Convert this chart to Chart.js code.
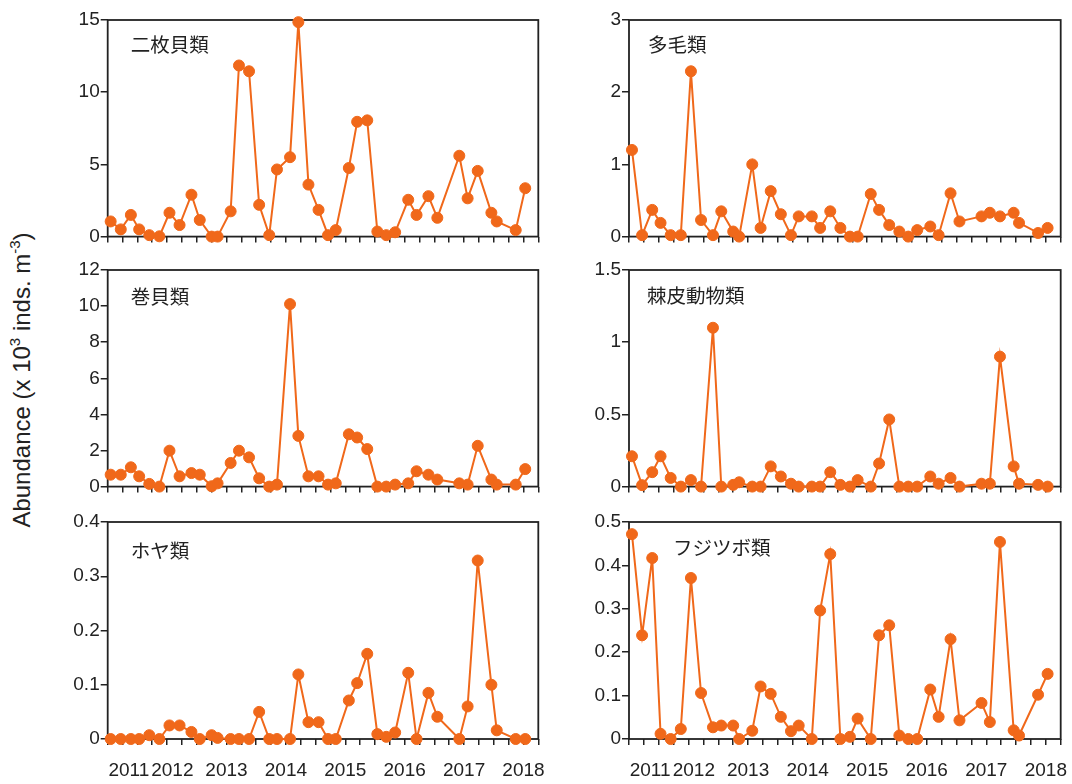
<!DOCTYPE html>
<html>
<head>
<meta charset="utf-8">
<script src="https://cdn.jsdelivr.net/npm/chart.js@4.4.1/dist/chart.umd.min.js"></script>
<style>
  html, body { margin: 0; padding: 0; background: #fff; }
  #wrap { position: relative; width: 1072px; height: 784px; overflow: hidden; }
  #wrap canvas { position: absolute; }
  #ytitle {
    position: absolute; left: 22px; top: 380px;
    transform: translate(-50%, -50%) rotate(-90deg);
    white-space: nowrap; color: #222;
    font: 24px "Liberation Sans", Arial, sans-serif;
  }
  #ytitle sup { font-size: 15px; line-height: 0; position: relative; top: -1px; }
</style>
</head>
<body>
<div id="wrap">
  <div id="ytitle">Abundance (x 10<sup>3</sup> inds. m<sup>-3</sup>)</div>
</div>
<script>
// Sampling dates (decimal years), shared by every taxon
const sampleDates = [2011.05, 2011.22, 2011.39, 2011.53, 2011.70, 2011.87, 2012.04, 2012.21, 2012.41, 2012.55,
  2012.75, 2012.85, 2013.07, 2013.21, 2013.38, 2013.55, 2013.72, 2013.85, 2014.07, 2014.21,
  2014.38, 2014.55, 2014.71, 2014.84, 2015.06, 2015.20, 2015.37, 2015.54, 2015.69, 2015.84,
  2016.06, 2016.20, 2016.40, 2016.55, 2016.92, 2017.06, 2017.23, 2017.46, 2017.55, 2017.87, 2018.03];

// Abundance (x 10^3 inds. m^-3) per taxon
const bivalve = [1.05, 0.5, 1.5, 0.5, 0.1, 0.02, 1.65, 0.8, 2.9, 1.15, 0, 0, 1.75, 11.85, 11.45, 2.2, 0.1, 4.65, 5.5, 14.85,
  3.6, 1.85, 0.1, 0.45, 4.75, 7.95, 8.05, 0.35, 0.1, 0.3, 2.55, 1.5, 2.8, 1.3, 5.6, 2.65, 4.55, 1.65, 1.05, 0.45, 3.35];
const polychaete = [1.2, 0.02, 0.37, 0.19, 0.02, 0.02, 2.29, 0.23, 0.02, 0.35, 0.07, 0, 1.0, 0.12, 0.63, 0.31, 0.02, 0.28, 0.28, 0.12,
  0.35, 0.12, 0, 0, 0.59, 0.37, 0.16, 0.07, 0, 0.09, 0.14, 0.02, 0.6, 0.21, 0.28, 0.33, 0.28, 0.33, 0.19, 0.05, 0.12];
const gastropod = [0.66, 0.66, 1.07, 0.57, 0.15, 0, 1.99, 0.57, 0.75, 0.66, 0.02, 0.18, 1.31, 1.99, 1.62, 0.46, 0, 0.11, 10.11, 2.81,
  0.57, 0.57, 0.11, 0.18, 2.9, 2.72, 2.08, 0, 0, 0.11, 0.18, 0.85, 0.66, 0.39, 0.18, 0.11, 2.26, 0.39, 0.11, 0.11, 0.97];
const echinoderm = [0.21, 0.01, 0.1, 0.21, 0.06, 0, 0.045, 0, 1.1, 0, 0.012, 0.03, 0, 0, 0.14, 0.07, 0.02, 0, 0, 0,
  0.1, 0.012, 0, 0.045, 0, 0.16, 0.465, 0, 0, 0, 0.07, 0.02, 0.06, 0, 0.02, 0.02, 0.9, 0.14, 0.02, 0.012, 0];
const ascidian = [0, 0, 0, 0, 0.007, 0, 0.025, 0.025, 0.013, 0, 0.007, 0.002, 0, 0, 0, 0.05, 0, 0, 0, 0.119,
  0.031, 0.031, 0, 0, 0.071, 0.103, 0.157, 0.009, 0.004, 0.012, 0.122, 0, 0.085, 0.041, 0, 0.06, 0.329, 0.1, 0.016, 0, 0];
const barnacle = [0.472, 0.239, 0.417, 0.012, 0, 0.023, 0.371, 0.106, 0.027, 0.031, 0.031, 0, 0.019, 0.121, 0.104, 0.051, 0.018, 0.031, 0, 0.296,
  0.426, 0, 0.005, 0.047, 0, 0.239, 0.262, 0.008, 0, 0, 0.114, 0.051, 0.23, 0.043, 0.083, 0.039, 0.454, 0.02, 0.008, 0.102, 0.15];

// Axis ticks
const yearLabels = ['2011', '2012', '2013', '2014', '2015', '2016', '2017', '2018'];
const bivalveTicks = [0, 5, 10, 15];
const polychaeteTicks = [0, 1, 2, 3];
const gastropodTicks = [0, 2, 4, 6, 8, 10, 12];
const echinodermTicks = [0, 0.5, 1, 1.5];
const ascidianTicks = [0, 0.1, 0.2, 0.3, 0.4];
const barnacleTicks = [0, 0.1, 0.2, 0.3, 0.4, 0.5];

const X_MIN = 2011, X_MAX = 2018.25;
const ORANGE = 'rgb(240,104,26)';
const INK = '#222';
const LATIN = '"Liberation Sans", Arial, Helvetica, sans-serif';
const CJK = '"Noto Sans CJK JP", "Noto Sans CJK SC", sans-serif';

// first two year labels sit shifted right so they clear the corner and each other
const labelShift = { '2011': 8, '2012': 2 };

const panels = [
  { name: '二枚貝類',   values: bivalve,    ticks: bivalveTicks,    col: 0, row: 0, dx: 23, dy: 25 },
  { name: '多毛類',     values: polychaete, ticks: polychaeteTicks, col: 1, row: 0, dx: 19, dy: 25 },
  { name: '巻貝類',     values: gastropod,  ticks: gastropodTicks,  col: 0, row: 1, dx: 23, dy: 27 },
  { name: '棘皮動物類', values: echinoderm, ticks: echinodermTicks, col: 1, row: 1, dx: 18, dy: 26 },
  { name: 'ホヤ類',     values: ascidian,   ticks: ascidianTicks,   col: 0, row: 2, dx: 23, dy: 29 },
  { name: 'フジツボ類', values: barnacle,   ticks: barnacleTicks,   col: 1, row: 2, dx: 44, dy: 26 }
];

const colLeft = [107.7, 629], colRight = [538.3, 1060.7];
const rowTop = [20, 270, 522], rowBottom = [237, 487, 739];

// frame around each plot area, drawn beneath the markers
const framePlugin = {
  id: 'frame',
  beforeDatasetsDraw(chart) {
    const { ctx, chartArea: a } = chart;
    ctx.save();
    ctx.strokeStyle = INK;
    ctx.lineWidth = 1.8;
    ctx.strokeRect(a.left, a.top, a.right - a.left, a.bottom - a.top);
    ctx.restore();
  }
};

// taxon name inside the upper-left of the plot
const namePlugin = {
  id: 'taxonName',
  afterDatasetsDraw(chart, args, opts) {
    const { ctx, chartArea: a } = chart;
    ctx.save();
    ctx.font = '19.5px ' + CJK;
    ctx.fillStyle = INK;
    ctx.textBaseline = 'middle';
    ctx.textAlign = 'left';
    ctx.fillText(opts.text, a.left + opts.dx, a.top + opts.dy);
    ctx.restore();
  }
};

const wrap = document.getElementById('wrap');

panels.forEach(p => {
  const plotL = colLeft[p.col], plotR = colRight[p.col];
  const plotT = rowTop[p.row], plotB = rowBottom[p.row];
  const isBottom = p.row === 2;

  const cLeft = Math.floor(plotL) - 70;
  const cTop = Math.floor(plotT) - 14;
  const cW = Math.ceil(plotR) + 16 - cLeft;
  const cH = Math.ceil(plotB) + (isBottom ? 46 : 12) - cTop;

  const yW = plotL - cLeft;
  const padT = plotT - cTop;
  const padR = cW - (plotR - cLeft);
  const xH = isBottom ? 46 : 12;
  const padB = cH - (plotB - cTop) - xH;

  const canvas = document.createElement('canvas');
  canvas.width = cW; canvas.height = cH;
  canvas.style.left = cLeft + 'px';
  canvas.style.top = cTop + 'px';
  canvas.style.width = cW + 'px';
  canvas.style.height = cH + 'px';
  wrap.appendChild(canvas);

  const yMax = p.ticks[p.ticks.length - 1];

  new Chart(canvas, {
    type: 'line',
    data: {
      datasets: [{
        data: sampleDates.map((d, i) => ({ x: d, y: p.values[i] })),
        borderColor: ORANGE,
        backgroundColor: ORANGE,
        borderWidth: 2,
        pointRadius: 5.5,
        pointBorderWidth: 1,
        pointBorderColor: ORANGE,
        pointBackgroundColor: ORANGE,
        tension: 0,
        clip: false
      }]
    },
    options: {
      responsive: false,
      animation: false,
      devicePixelRatio: 1,
      layout: { padding: { left: 0, top: padT, right: padR, bottom: padB } },
      plugins: {
        legend: { display: false },
        tooltip: { enabled: false },
        taxonName: { text: p.name, dx: p.dx, dy: p.dy }
      },
      scales: {
        x: {
          type: 'linear',
          min: X_MIN, max: X_MAX,
          border: { display: false },
          grid: { drawOnChartArea: false, drawTicks: true, tickLength: 6, color: INK, lineWidth: 1.5 },
          ticks: {
            autoSkip: false, maxRotation: 0, minRotation: 0, padding: 14,
            color: INK, font: { family: LATIN, size: 19 },
            callback: (v) => {
              if (!isBottom) return '';
              const lab = yearLabels.find(y => Math.abs(+y - v) < 1e-6);
              if (!lab) return '';
              return ' '.repeat(labelShift[lab] || 0) + lab;
            }
          },
          afterBuildTicks: (scale) => {
            const t = [];
            for (let q = 0; q <= (X_MAX - X_MIN) * 4 + 1e-9; q++) t.push({ value: X_MIN + q * 0.25 });
            scale.ticks = t;
          },
          afterFit: (scale) => { scale.height = xH; }
        },
        y: {
          min: 0, max: yMax,
          border: { display: false },
          grid: { drawOnChartArea: false, drawTicks: true, tickLength: 7, color: INK, lineWidth: 1.5 },
          ticks: {
            padding: 1, color: INK, font: { family: LATIN, size: 19 },
            callback: (v) => String(+v.toFixed(2))
          },
          afterBuildTicks: (scale) => { scale.ticks = p.ticks.map(v => ({ value: v })); },
          afterFit: (scale) => { scale.width = yW; }
        }
      }
    },
    plugins: [framePlugin, namePlugin]
  });
});
</script>
</body>
</html>
